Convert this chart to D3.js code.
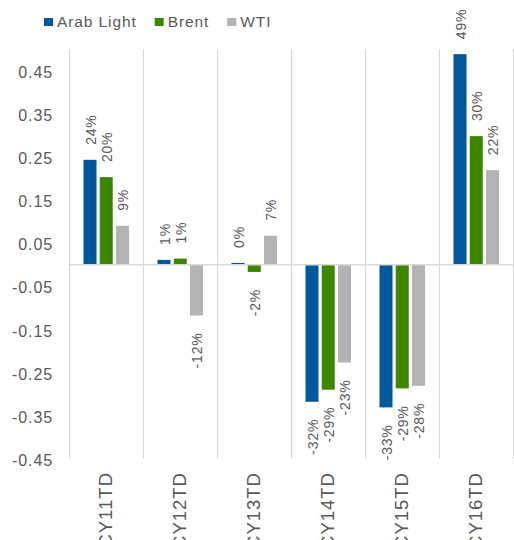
<!DOCTYPE html>
<html>
<head>
<meta charset="utf-8">
<script src="https://cdn.jsdelivr.net/npm/d3@7"></script>
<style>
  html, body { margin: 0; padding: 0; background: #fff; }
  svg { display: block; }
  text { font-family: "Liberation Sans", Arial, sans-serif; fill: #595959; }
</style>
</head>
<body>
<svg id="chart" width="514" height="540"></svg>
<script>
const categories = ["CY11TD", "CY12TD", "CY13TD", "CY14TD", "CY15TD", "CY16TD"];
const seriesNames = ["Arab Light", "Brent", "WTI"];
const arabLight = [0.243, 0.011, 0.004, -0.318, -0.331, 0.488];
const brent     = [0.203, 0.014, -0.017, -0.290, -0.287, 0.298];
const wti       = [0.090, -0.118, 0.067, -0.227, -0.281, 0.219];
const yTicks = [0.45, 0.35, 0.25, 0.15, 0.05, -0.05, -0.15, -0.25, -0.35, -0.45];
const colors = ["#00589C", "#3F8600", "#B3B3B3"];

const seriesValues = [arabLight, brent, wti];
const svg = d3.select("#chart");
const loc = d3.formatLocale({ decimal: ".", thousands: ",", grouping: [3], currency: ["$", ""], minus: "-", percent: "%" });

const x0 = d3.scaleBand().domain(categories).range([69, 513]).paddingInner(0).paddingOuter(0);
const x1 = d3.scaleBand().domain(seriesNames).range([14.5, 60]).paddingInner(0.2).paddingOuter(0);
const y = d3.scaleLinear().domain([-0.45, 0.5]).range([458.7, 49]);
const color = d3.scaleOrdinal().domain(seriesNames).range(colors);

// vertical gridlines at category boundaries
const bounds = categories.map(c => x0(c)).concat([x0.range()[1]]);
svg.append("g").selectAll("line").data(bounds).join("line")
  .attr("x1", d => Math.round(d) + 0.5).attr("x2", d => Math.round(d) + 0.5)
  .attr("y1", y(0.5)).attr("y2", y(-0.45))
  .attr("stroke", "#D9D9D9").attr("stroke-width", 1.2);

// y-axis tick labels
const yAxis = d3.axisLeft(y).tickValues(yTicks).tickFormat(loc.format(".2f")).tickSize(0).tickPadding(0);
const yg = svg.append("g").attr("transform", "translate(53,0)").call(yAxis);
yg.select(".domain").remove();
yg.selectAll("text")
  .style("font-size", "16px").style("letter-spacing", "0.9px")
  .attr("dy", "0.42em").attr("fill", "#595959");

// bars
const flat = [];
categories.forEach((c, i) => {
  seriesNames.forEach((s, j) => flat.push({ cat: c, series: s, value: seriesValues[j][i] }));
});

svg.append("g").selectAll("rect").data(flat).join("rect")
  .attr("x", d => x0(d.cat) + x1(d.series))
  .attr("width", x1.bandwidth())
  .attr("y", d => y(Math.max(0, d.value)))
  .attr("height", d => Math.abs(y(d.value) - y(0)))
  .attr("fill", d => color(d.series));

// zero line
svg.append("line")
  .attr("x1", 69).attr("x2", 514)
  .attr("y1", y(0)).attr("y2", y(0))
  .attr("stroke", "#D9D9D9").attr("stroke-width", 1.5);

// data labels
const pct = loc.format(".0%");
svg.append("g").selectAll("text").data(flat).join("text")
  .attr("transform", d => {
    const cx = x0(d.cat) + x1(d.series) + x1.bandwidth() / 2 + 1;
    const yy = d.value >= 0 ? y(d.value) - 15 : y(d.value) + 17;
    return `translate(${cx},${yy}) rotate(-90)`;
  })
  .attr("text-anchor", d => d.value >= 0 ? "start" : "end")
  .attr("dy", "0.35em")
  .style("font-size", "14px").style("letter-spacing", "0.8px")
  .text(d => pct(d.value));

// category labels
const xAxis = d3.axisBottom(x0).tickSize(0).tickPadding(0);
const xg = svg.append("g").attr("transform", "translate(0,472)").call(xAxis);
xg.select(".domain").remove();
xg.selectAll("text")
  .attr("transform", "rotate(-90)")
  .attr("text-anchor", "end")
  .attr("x", 0).attr("y", 0).attr("dy", "0.35em")
  .style("font-size", "18.5px").style("letter-spacing", "1px")
  .attr("fill", "#595959");

// legend
const legend = svg.append("g");
let lx = 44;
seriesNames.forEach((s) => {
  legend.append("rect").attr("x", lx).attr("y", 18).attr("width", 9).attr("height", 8).attr("fill", color(s));
  const t = legend.append("text").attr("x", lx + 13).attr("y", 27)
    .style("font-size", "15.5px").style("letter-spacing", "0.9px").text(s);
  lx += 13 + t.node().getComputedTextLength() + 18;
});
</script>
</body>
</html>
